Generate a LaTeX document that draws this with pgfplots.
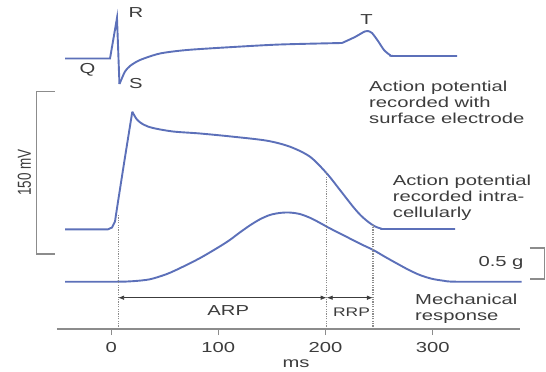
\documentclass[border=0pt]{standalone}
\usepackage{pgfplots}
\pgfplotsset{compat=1.18}
\usepackage{graphicx}
\usepackage{fontspec}
\setmainfont[FakeStretch=1.4]{Liberation Sans}
\newfontfamily\plainfont{Liberation Sans}
\usetikzlibrary{arrows.meta}
\definecolor{ecgblue}{RGB}{92,112,185}
\definecolor{txt}{RGB}{60,60,60}
\definecolor{axgray}{RGB}{140,140,140}
\newcommand\lbl{\fontsize{14.5}{16}\selectfont}

\begin{document}
\begin{tikzpicture}
\begin{axis}[
  scale only axis, width=463.1bp, height=329bp,
  xmin=-50.6, xmax=381.6, ymin=0, ymax=329,
  clip=false,
  axis x line*=bottom, axis y line=none,
  x axis line style={axgray, line width=1.2bp, -},
  xtick={0,100,200,300},
  tick align=outside, major tick length=6bp,
  xtick style={axgray, line width=1bp},
  xticklabel style={font=\lbl, text=txt, inner sep=0pt, anchor=north, yshift=-7bp},
  /pgf/number format/assume math mode=true,
]
% forcing the picture size
\path (axis cs:-103.78,-42) rectangle (axis cs:405.78,329);

% ECG (surface electrode)
\addplot[ecgblue, line width=1.9bp] coordinates {
(-43.1,270.5) (-1.1,270.5) (5.4,311) (7.7,245)};
\addplot[ecgblue, line width=1.9bp, smooth, tension=0.45] coordinates {
(7.7,245) (10.1,251) (12.9,257.5) (17.5,263) (26.9,269) (45.5,275.5) (70.7,279)
(113.7,282) (157.5,284.5) (215.4,286)};
\addplot[ecgblue, line width=1.9bp, smooth, tension=0.4] coordinates {
(215.4,286) (227.5,292) (236.5,297.5) (239.5,298) (243.4,296) (249.0,288) (254.6,279)
(260.2,274) (264.9,273) (322.8,273)};

% intracellular action potential
\addplot[ecgblue, line width=1.9bp] coordinates {
(-43.1,99.7) (-3.0,99.7) (0.7,101.5) (3.5,107.3) (6.6,129) (12.9,172) (19.7,217.3)};
\addplot[ecgblue, line width=1.9bp, smooth, tension=0.5] coordinates {
(19.7,217.3) (24,209.5) (30,204.5) (39,201) (57.7,197.5) (83,195.5) (113.7,192.3)
(145.4,188.3) (166.8,182.3) (185.5,172.3) (201.1,155.7) (213.5,139) (225.7,122.3)
(233,113.5) (240,107) (246,102.7) (252,100.4) (258,100) (320.9,100)};

% mechanical response
\addplot[ecgblue, line width=1.9bp, smooth, tension=0.5] coordinates {
(-43.1,47.3) (5,47.3) (20,47.8) (36,49.7) (52,55) (67,62.3) (83,71) (98.5,80.7)
(110,88.5) (120,96.5) (130,104) (139,109.8) (148,114) (157,116) (166,116.5)
(176,115) (186,111) (195,106) (204,100.7) (214,95.3) (224,89.8) (234,84.4)
(244.6,79) (255,72.5) (266,65.9) (277,59.5) (288,54) (299,50.3) (310,48.3)
(322,47.3) (383.1,47.3)};

% dotted markers
\addplot[axgray, line width=1.1bp, dash pattern=on 1.2bp off 1.2bp] coordinates {(6.4,0) (6.4,114)};
\addplot[axgray, line width=1.1bp, dash pattern=on 1.2bp off 1.2bp] coordinates {(201.1,0) (201.1,157.3)};
\addplot[axgray, line width=1.1bp, dash pattern=on 1.2bp off 1.2bp] coordinates {(244.3,0) (244.3,104)};

% ARP / RRP arrows
\addplot[txt, line width=0.8bp, {Latex[length=6bp,width=4.5bp]}-{Latex[length=6bp,width=4.5bp]}]
  coordinates {(6.4,31.3) (201.1,31.3)};
\addplot[txt, line width=0.8bp, {Latex[length=6bp,width=4.5bp]}-{Latex[length=6bp,width=4.5bp]}]
  coordinates {(201.1,31.3) (244.3,31.3)};
\node[anchor=base, text=txt, inner sep=0pt, font=\lbl] at (axis cs:109.2,14) {ARP};
\node[anchor=base, text=txt, inner sep=0pt, font=\fontsize{12.5}{14}\selectfont] at (axis cs:224.3,12.3) {RRP};

% scale bars
\addplot[axgray, line width=1.1bp] coordinates {(-52.5,237.3) (-69.5,237.3) (-69.5,75) (-52.5,75)};
\node[text=txt, inner sep=0pt] at (axis cs:-80.9,156.5)
  {\scalebox{1.4}[1]{\rotatebox{90}{\plainfont\fontsize{13.5}{15}\selectfont 150 mV}}};
\addplot[axgray, line width=1.1bp] coordinates {(390.8,81) (404.5,81) (404.5,50) (390.8,50)};
\node[anchor=base, text=txt, inner sep=0pt, font=\lbl] at (axis cs:363.8,62.3) {0.5 g};

% wave labels
\node[text=txt, inner sep=0pt, font=\lbl] at (axis cs:23.1,316) {R};
\node[text=txt, inner sep=0pt, font=\lbl] at (axis cs:-22.1,259) {Q};
\node[text=txt, inner sep=0pt, font=\lbl] at (axis cs:23.1,245) {S};
\node[text=txt, inner sep=0pt, font=\lbl] at (axis cs:238.4,309) {T};

% descriptions
\node[anchor=north west, align=left, text=txt, inner sep=0pt, font=\lbl] at (axis cs:240.6,248)
  {Action potential\\recorded with\\surface electrode};
\node[anchor=north west, align=left, text=txt, inner sep=0pt, font=\lbl] at (axis cs:262.7,154)
  {Action potential\\recorded intra-\\cellularly};
\node[anchor=north west, align=left, text=txt, inner sep=0pt, font=\lbl] at (axis cs:283.5,35)
  {Mechanical\\response};

% x label
\node[anchor=base, text=txt, inner sep=0pt, font=\lbl] at (axis cs:172.5,-38.5) {ms};
\end{axis}
\end{tikzpicture}
\end{document}
